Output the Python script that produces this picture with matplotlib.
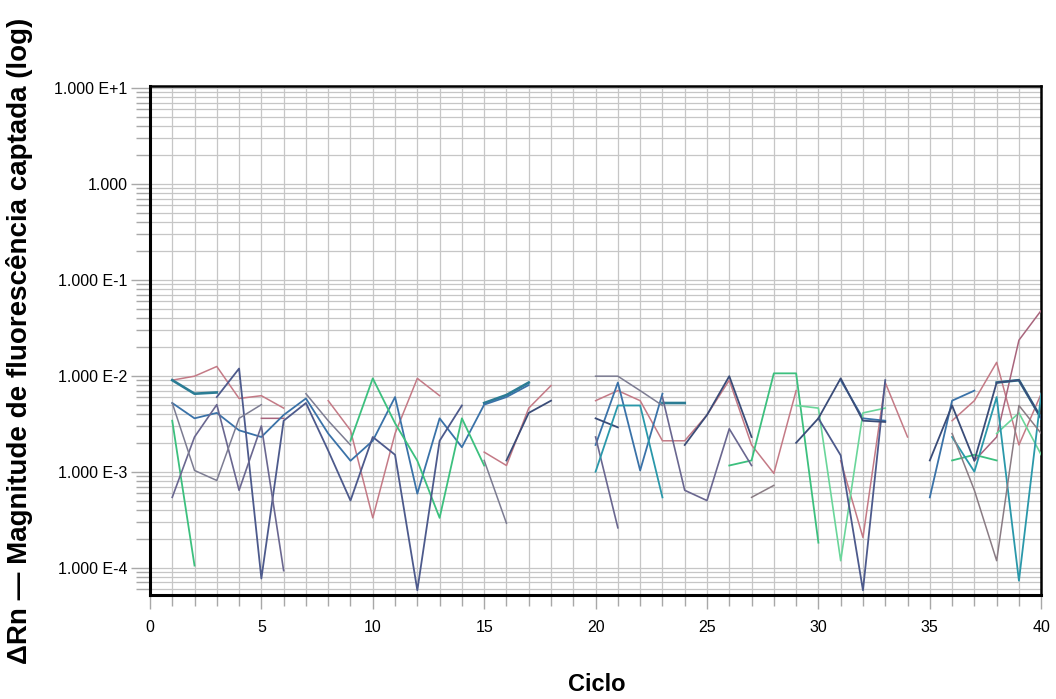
import numpy as np
import matplotlib
matplotlib.use("Agg")
import matplotlib.pyplot as plt
from matplotlib.ticker import FixedLocator, NullFormatter

plt.rcParams["font.family"] = ["Liberation Sans", "DejaVu Sans"]

N = np.nan
cycles = list(range(1, 41))

# Each series: values for cycles 1..40 (nan = no data)
s_pink = [9.0e-3, 9.9e-3, 1.25e-2, 5.8e-3, 6.2e-3, 4.6e-3, N, 5.5e-3, 2.7e-3, 3.3e-4,
          2.5e-3, 9.4e-3, 6.2e-3, N, 1.6e-3, 1.16e-3, 4.6e-3, 7.9e-3, N, 5.5e-3,
          7.0e-3, 5.5e-3, 2.1e-3, 2.1e-3, 3.9e-3, 9.0e-3, 1.9e-3, 9.6e-4, 7.0e-3, N,
          1.3e-3, 2.06e-4, 8.5e-3, 2.3e-3, N, 3.4e-3, 5.5e-3, 1.38e-2, 1.9e-3, 6.5e-3]
s_mauve = [N, N, N, N, 3.6e-3, 3.6e-3, N, N, N, N,
           N, N, N, N, N, N, N, N, N, N,
           N, N, N, N, N, N, N, N, N, N,
           N, N, N, N, N, N, 1.3e-3, 2.3e-3, 2.35e-2, 4.8e-2]
s_teal_thick = [9.0e-3, 6.5e-3, 6.7e-3, N, N, N, N, N, N, N,
                N, N, N, N, 5.2e-3, 6.3e-3, 8.5e-3, N, N, N,
                N, N, 5.2e-3, 5.2e-3, N, N, N, N, N, N,
                N, N, N, N, N, N, N, 8.5e-3, 9.0e-3, 3.6e-3]
s_blue = [5.2e-3, 3.6e-3, 4.1e-3, 2.7e-3, 2.3e-3, 3.9e-3, 5.8e-3, 2.5e-3, 1.3e-3, 2.1e-3,
          6.0e-3, 5.9e-4, 3.6e-3, 1.8e-3, 5.0e-3, 6.0e-3, 8.0e-3, N, N, 1.9e-3,
          8.5e-3, 1.03e-3, 6.5e-3, N, N, N, N, N, N, N,
          9.0e-3, 3.6e-3, 3.4e-3, N, 5.4e-4, 5.5e-3, 7.0e-3, N, N, N]
s_green = [3.4e-3, 1.05e-4, N, N, N, N, N, N, 2.1e-3, 9.4e-3,
           3.2e-3, 1.3e-3, 3.3e-4, 3.6e-3, 1.16e-3, N, N, N, N, N,
           N, N, N, N, N, 1.16e-3, 1.31e-3, 1.06e-2, 1.06e-2, 1.82e-4,
           N, N, N, N, N, 1.31e-3, 1.5e-3, 1.31e-3, N, N]
s_lightgreen = [N, N, N, N, N, N, N, N, N, N,
                N, N, N, N, N, N, N, N, N, N,
                N, N, N, N, N, N, N, N, 4.9e-3, 4.6e-3,
                1.18e-4, 4.1e-3, 4.6e-3, N, N, N, N, 2.5e-3, 4.1e-3, 1.5e-3]
s_slate = [N, N, 6.0e-3, 1.19e-2, 7.7e-5, 3.4e-3, 5.2e-3, 1.66e-3, 5.0e-4, 2.3e-3,
           1.5e-3, 5.8e-5, 2.1e-3, 4.9e-3, N, N, N, N, N, N,
           N, N, N, N, N, N, N, N, N, 3.6e-3,
           1.48e-3, 5.8e-5, 9.0e-3, N, N, N, N, N, N, N]
s_purple = [5.4e-4, 2.3e-3, 5.0e-3, 6.4e-4, 3.0e-3, 9.3e-5, N, N, N, N,
            N, N, N, N, N, N, N, N, N, 2.3e-3,
            2.6e-4, N, 6.0e-3, 6.4e-4, 5.0e-4, 2.8e-3, 1.16e-3, N, N, N,
            N, N, N, N, N, N, N, N, N, N]
s_gray = [5.2e-3, 1.03e-3, 8.1e-4, 3.6e-3, 5.0e-3, N, 6.5e-3, 3.4e-3, 1.9e-3, N,
          N, N, N, N, 1.31e-3, 2.9e-4, N, N, N, 9.9e-3,
          9.9e-3, 7.0e-3, 4.9e-3, N, N, N, N, N, N, N,
          N, N, N, N, N, N, N, N, N, N]
s_dark = [N, N, N, N, N, N, N, N, N, N,
          N, N, N, N, N, 1.31e-3, 4.1e-3, 5.5e-3, N, 3.6e-3,
          2.9e-3, N, N, 1.9e-3, 3.9e-3, 9.9e-3, 2.3e-3, N, 2.0e-3, 3.6e-3,
          9.4e-3, 3.4e-3, 3.3e-3, N, 1.31e-3, 4.9e-3, 1.3e-3, 8.5e-3, 9.0e-3, 3.6e-3]
s_teal = [N, N, N, N, N, N, N, N, N, N,
          N, N, N, N, N, N, N, N, N, 1.0e-3,
          4.9e-3, 4.9e-3, 5.4e-4, N, N, N, N, N, N, N,
          N, N, N, N, N, 2.3e-3, 1.0e-3, 6.0e-3, 7.3e-5, 6.5e-3]
s_brown = [N, N, N, N, N, N, N, N, N, N,
           N, N, N, N, N, N, N, N, N, N,
           N, N, N, N, N, N, 5.4e-4, 7.2e-4, N, N,
           N, N, N, N, N, 2.5e-3, 6.4e-4, 1.18e-4, 4.9e-3, 2.5e-3]

series = [
    (s_pink, "#c47a86", 1.1),
    (s_mauve, "#a8647c", 1.1),
    (s_teal_thick, "#2b7c94", 1.9),
    (s_blue, "#3a72a8", 1.3),
    (s_green, "#3cc07e", 1.3),
    (s_lightgreen, "#6ad69a", 1.2),
    (s_slate, "#4d5a8c", 1.3),
    (s_purple, "#6a6790", 1.2),
    (s_gray, "#7c7c92", 1.1),
    (s_dark, "#3a4c78", 1.3),
    (s_teal, "#2a98aa", 1.3),
    (s_brown, "#8a7c84", 1.1),
]

ytick_vals = [1e-4, 1e-3, 1e-2, 1e-1, 1.0, 10.0]
ytick_labels = ["1.000 E-4", "1.000 E-3", "1.000 E-2", "1.000 E-1", "1.000", "1.000 E+1"]
xtick_vals = [0, 5, 10, 15, 20, 25, 30, 35, 40]

fig = plt.figure(figsize=(10.56, 6.99), dpi=100)
ax = fig.add_axes([0.142, 0.149, 0.844, 0.728])
ax.set_yscale("log")

for vals, col, lw in series:
    ax.plot(cycles, vals, color=col, lw=lw, zorder=3)

ax.set_xlim(0, 40)
ax.set_ylim(5.2e-5, 10.5)

minor_y = [m * 10.0 ** e for e in range(-5, 2) for m in range(2, 10)]
ax.yaxis.set_major_locator(FixedLocator(ytick_vals))
ax.yaxis.set_minor_locator(FixedLocator(minor_y))
ax.yaxis.set_minor_formatter(NullFormatter())
ax.set_yticklabels(ytick_labels)

ax.xaxis.set_major_locator(FixedLocator(xtick_vals))
ax.xaxis.set_minor_locator(FixedLocator(list(range(0, 41))))
ax.set_xticklabels([str(v) for v in xtick_vals])

gc = "#c6c6c6"
ax.grid(True, which="both", axis="both", color=gc, lw=0.9, zorder=1)
ax.set_axisbelow(True)

ax.tick_params(axis="both", which="both", direction="out", color="#a8a8a8", width=1.0)
ax.tick_params(axis="y", which="major", length=14, labelsize=11.5, pad=2)
ax.tick_params(axis="y", which="minor", length=10)
ax.tick_params(axis="x", which="major", length=10, labelsize=11.5, pad=8)
ax.tick_params(axis="x", which="minor", length=8)

for sp in ax.spines.values():
    sp.set_color("black")
ax.spines["left"].set_linewidth(2.2)
ax.spines["bottom"].set_linewidth(2.2)
ax.spines["top"].set_linewidth(1.8)
ax.spines["right"].set_linewidth(1.8)

fig.text(0.018, 0.513, "\u0394Rn \u2014 Magnitude de fluorescência captada (log)",
         rotation=90, ha="center", va="center", fontsize=20, fontweight="bold")
fig.text(0.565, 0.005, "Ciclo", ha="center", va="bottom", fontsize=17, fontweight="bold")

fig.savefig("out.png", dpi=100)
